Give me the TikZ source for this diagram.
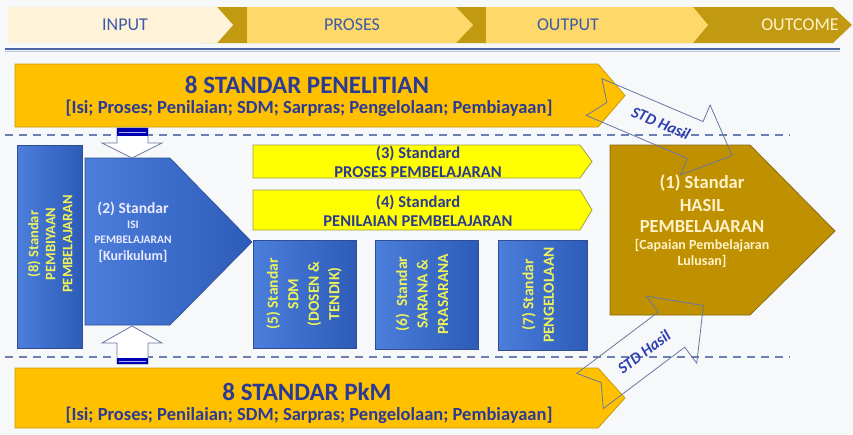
\documentclass[tikz,border=0pt]{standalone}
\usepackage{fontspec}
\setmainfont{Carlito}
\definecolor{bg}{HTML}{F7F8FA}
\definecolor{gold}{HTML}{FFC000}
\definecolor{goldline}{HTML}{C99A06}
\definecolor{navy}{HTML}{2B3A94}
\definecolor{bluea}{HTML}{4C7EDB}
\definecolor{blueb}{HTML}{2D5BB8}
\definecolor{blueline}{HTML}{2F4E94}
\definecolor{yel}{HTML}{FFFF00}
\definecolor{yelline}{HTML}{A0A050}
\definecolor{brown}{HTML}{BF9000}
\definecolor{brownline}{HTML}{8A6A10}
\definecolor{cream}{HTML}{FFF2C8}
\definecolor{boxtext}{HTML}{EEF25A}
\definecolor{hdrdark}{HTML}{C29A12}
\definecolor{hdrA}{HTML}{FEF3D8}
\definecolor{hdrB}{HTML}{FED96A}
\definecolor{hdrtext}{HTML}{3D5AA8}
\definecolor{dashc}{HTML}{6C7FB5}
\definecolor{stdblue}{HTML}{2E3FB0}
\definecolor{stdline}{HTML}{6A78A0}
\definecolor{rule}{HTML}{4A66A8}
\newcommand{\fsz}[2]{\fontsize{#1}{#2}\selectfont}
\begin{document}
\begin{tikzpicture}[x=1pt,y=-1pt,
  hdr/.style={font=\fsz{18}{18}, text=hdrtext},
  yarrow/.style={fill=gold, draw=goldline, line width=0.8pt},
  ttl/.style={font=\fsz{25}{25}\bfseries, text=navy},
  subttl/.style={font=\fsz{18.5}{18.5}\bfseries, text=navy},
  bbox/.style={left color=bluea, right color=blueb, draw=blueline, line width=0.6pt},
  ybox/.style={fill=yel, draw=yelline, line width=0.8pt},
  ytxt/.style={font=\fsz{16.5}{19}\bfseries, text=navy, align=center},
  vtxt/.style={font=\fsz{15.5}{20.5}\bfseries, text=boxtext, align=center, rotate=90},
  ptxt/.style={text=white!92!blue, inner sep=0pt},
  btxt/.style={text=cream, inner sep=0pt},
  dashline/.style={draw=dashc, line width=1.6pt, dash pattern=on 8pt off 6pt},
  outarrow/.style={fill=white, draw=stdline, line width=0.8pt},
  stdarrow/.style={draw=stdline, line width=0.8pt},
  stdtxt/.style={font=\fsz{16}{16}\bfseries\itshape, text=stdblue}
]
\fill[bg] (0,0) rectangle (853,434);
\useasboundingbox (0,0) rectangle (853,434);

% header band
\fill[hdrdark] (200,7) -- (833,7) -- (852,25) -- (833,43) -- (200,43) -- cycle;
\fill[hdrA] (8,7) -- (217,7) -- (233,25) -- (217,43) -- (8,43) -- cycle;
\fill[hdrB] (247,7) -- (456,7) -- (473,25) -- (456,43) -- (247,43) -- cycle;
\fill[hdrB] (486,7) -- (693,7) -- (708,25) -- (693,43) -- (486,43) -- cycle;
\node[hdr] (hin) at (125,25) {INPUT};
\node[hdr] (hpr) at (352,25) {PROSES};
\node[hdr] (hout) at (568,25) {OUTPUT};
\node[hdr, text=cream] (hoc) at (800,25) {OUTCOME};
\draw[rule!40, line width=1pt] (5,51.5) -- (840,51.5);
\draw[rule, line width=2.5pt] (5,49) -- (840,49);

% dashed separators
\draw[dashline] (5,135) -- (790,135);
\draw[dashline] (5,357) -- (790,357);

% research arrow
\draw[yarrow] (15,64) -- (598,64) -- (625,95.5) -- (598,127) -- (15,127) -- cycle;
\node[ttl] (pen) at (307,85) {8 STANDAR PENELITIAN};
\node[subttl] (pensub) at (309,108) {[Isi; Proses; Penilaian; SDM; Sarpras; Pengelolaan; Pembiayaan]};

% community service arrow
\draw[yarrow] (15,368) -- (598,368) -- (625,398) -- (598,428) -- (15,428) -- cycle;
\node[ttl] (pkm) at (307,392) {8 STANDAR PkM};
\node[subttl] (pkmsub) at (309,415) {[Isi; Proses; Penilaian; SDM; Sarpras; Pengelolaan; Pembiayaan]};

% box 8
\draw[bbox] (17,145) rectangle (82,348);
\node[vtxt, font=\fsz{14.5}{17}\bfseries] (s8) at (50,244) {(8) Standar\\PEMBIYAAN\\PEMBELAJARAN};

% pentagon 2
\draw[bbox] (85,158) -- (170,158) -- (252,242) -- (170,325) -- (85,325) -- cycle;
\node[ptxt, font=\fsz{15.5}{16}\bfseries] (s2a) at (133,209) {(2) Standar};
\node[ptxt, font=\fsz{11.5}{12}\bfseries] (s2b) at (133,225) {ISI};
\node[ptxt, font=\fsz{11.5}{12}\bfseries] (s2c) at (133,240) {PEMBELAJARAN};
\node[ptxt, font=\fsz{14}{15}\bfseries] (s2d) at (133,256) {[Kurikulum]};

% yellow arrows 3 and 4
\draw[ybox] (253,145) -- (580,145) -- (592,161.5) -- (580,178) -- (253,178) -- cycle;
\node[ytxt] (s3) at (418,162) {(3) Standard\\PROSES PEMBELAJARAN};
\draw[ybox] (253,190) -- (580,190) -- (592,210) -- (580,230) -- (253,230) -- cycle;
\node[ytxt] (s4) at (418,211) {(4) Standard\\PENILAIAN PEMBELAJARAN};

% boxes 5, 6, 7
\draw[bbox] (253,240) rectangle (356,348);
\node[vtxt] (s5) at (304,294) {(5) Standar\\SDM\\(DOSEN \&\\TENDIK)};
\draw[bbox] (375,240) rectangle (478,349);
\node[vtxt] (s6) at (422,294) {(6)~ Standar\\SARANA \&\\PRASARANA};
\draw[bbox] (498,240) rectangle (587,350);
\node[vtxt] (s7) at (538,295) {(7) Standar\\PENGELOLAAN};

% brown pentagon 1
\draw[fill=brown, draw=brownline, line width=0.8pt] (610,145) -- (750,145) -- (835,231) -- (750,315) -- (610,315) -- cycle;
\node[btxt, font=\fsz{18.5}{19}\bfseries] (s1a) at (702,183) {(1) Standar};
\node[btxt, font=\fsz{18.5}{19}\bfseries] (s1b) at (702,205) {HASIL};
\node[btxt, font=\fsz{18.5}{19}\bfseries] (s1c) at (702,227) {PEMBELAJARAN};
\node[btxt, font=\fsz{14}{15}\bfseries] (s1d) at (702,246) {[Capaian Pembelajaran};
\node[btxt, font=\fsz{14}{15}\bfseries] (s1e) at (702,261) {Lulusan]};

% block arrows into pentagon 2
\draw[outarrow] (117,128) -- (148,128) -- (148,143) -- (162,143) -- (132,158) -- (102,143) -- (117,143) -- cycle;
\fill[blue!70!black] (117,128) rectangle (148,136);
\draw[white!70!blue, line width=1pt] (119,132) -- (146,132);
\draw[outarrow] (132,326) -- (162,343) -- (148,343) -- (148,364) -- (117,364) -- (117,343) -- (102,343) -- cycle;
\fill[blue!70!black] (117,358) rectangle (148,364);
\draw[white!70!blue, line width=1pt] (119,361) -- (146,361);

% STD Hasil arrows
\begin{scope}[shift={(594,97)}, rotate=-23]
  \draw[stdarrow] (0,-20) -- (110,-20) -- (110,-38) -- (150,0) -- (110,38) -- (110,20) -- (0,20) -- (14,0) -- cycle;
\end{scope}
\node[stdtxt, rotate=-23] (std1) at (661,123) {STD Hasil};
\begin{scope}[shift={(590,391)}, rotate=37]
  \draw[stdarrow] (0,-22) -- (102,-22) -- (102,-42) -- (142,0) -- (102,42) -- (102,22) -- (0,22) -- (14,0) -- cycle;
\end{scope}
\node[stdtxt, rotate=37] (std2) at (644,352) {STD Hasil};
\end{tikzpicture}
\end{document}
